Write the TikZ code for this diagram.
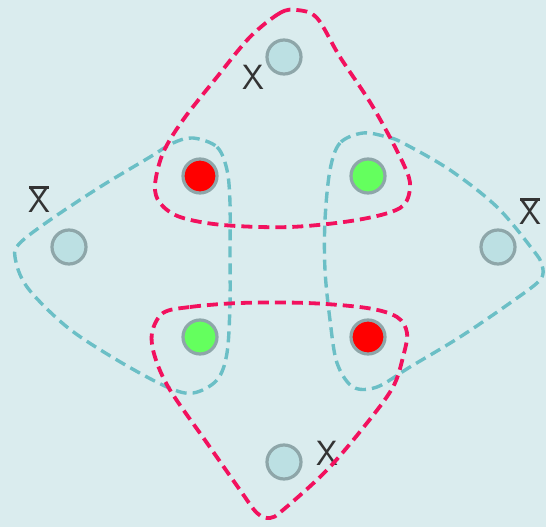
\documentclass[tikz,border=0pt]{standalone}
\usepackage{fontspec}
\definecolor{bg}{HTML}{DAECEE}
\definecolor{hotpink}{HTML}{F2115E}
\definecolor{teal2}{HTML}{6BBFC6}
\definecolor{nodefill}{HTML}{BCE0E3}
\definecolor{nodeedge}{HTML}{8EA6A9}
\definecolor{redfill}{HTML}{FF0000}
\definecolor{greenfill}{HTML}{64FF5E}
\newcommand\barredX{\vbox{\offinterlineskip\halign{\hfil##\hfil\cr\vrule width 20pt height 3pt\cr\noalign{\kern-1pt}X\cr}}}
\tikzset{
  vertex/.style={circle, minimum size=34pt, inner sep=0pt, line width=3.2pt, draw=nodeedge, fill=nodefill},
  redv/.style={vertex, fill=redfill},
  greenv/.style={vertex, fill=greenfill},
  pinkhull/.style={draw=hotpink, line width=3.8pt, dash pattern=on 11pt off 6pt},
  tealhull/.style={draw=teal2, line width=3.4pt, dash pattern=on 11pt off 6pt},
  lbl/.style={font=\fontsize{35}{35}\sffamily, inner sep=0pt, text=black!80}
}
\begin{document}
\begin{tikzpicture}[x=1pt, y=-1pt]
\fill[bg] (0,0) rectangle (546,527);
\useasboundingbox (0,0) rectangle (546,527);

% nodes
\node[vertex] (top) at (284,57) {};
\node[vertex] (bot) at (284,462) {};
\node[vertex] (lft) at (69,247) {};
\node[vertex] (rgt) at (498,247) {};
\node[redv] (rtl) at (200,176) {};
\node[greenv] (gtr) at (368,176) {};
\node[greenv] (gbl) at (200,337) {};
\node[redv] (rbr) at (368,337) {};

% labels
\node[lbl] (xtop) at (253,77) {X};
\node[lbl] (xbot) at (327,453) {X};
\node[lbl] (xbl) at (39,199) {\barredX};
\node[lbl] (xbr) at (530,211) {\barredX};

% teal hulls
\draw[tealhull] plot[smooth cycle, tension=0.55] coordinates {
  (193,138) (217,147) (227,170) (230,203) (230,253) (230,303) (227,353)
  (217,380) (193,393) (167,387) (117,360) (67,327) (27,287) (15,257)
  (20,243) (50,220) (100,187) (150,157) (173,143)};
\draw[tealhull] plot[smooth cycle, tension=0.55] coordinates {
  (363,133) (340,143) (330,170) (325,220) (325,270) (330,320) (337,363)
  (353,387) (377,387) (410,367) (460,337) (510,303) (540,280) (542,265)
  (533,250) (497,207) (450,170) (403,143) (387,137)};

% pink hulls
\draw[pinkhull] plot[smooth cycle, tension=0.55] coordinates {
  (297,10) (280,13) (250,37) (217,77) (183,120) (163,153) (155,185)
  (160,203) (180,217) (223,225) (290,227) (357,220) (400,208) (410,187)
  (403,163) (373,107) (340,57) (317,18)};
\draw[pinkhull] plot[smooth cycle, tension=0.55] coordinates {
  (163,313) (190,307) (240,303) (307,303) (367,308) (397,317) (407,333)
  (403,357) (393,387) (367,423) (327,470) (283,510) (270,518) (257,513)
  (240,490) (207,443) (170,390) (155,357) (152,333)};
\end{tikzpicture}
\end{document}
